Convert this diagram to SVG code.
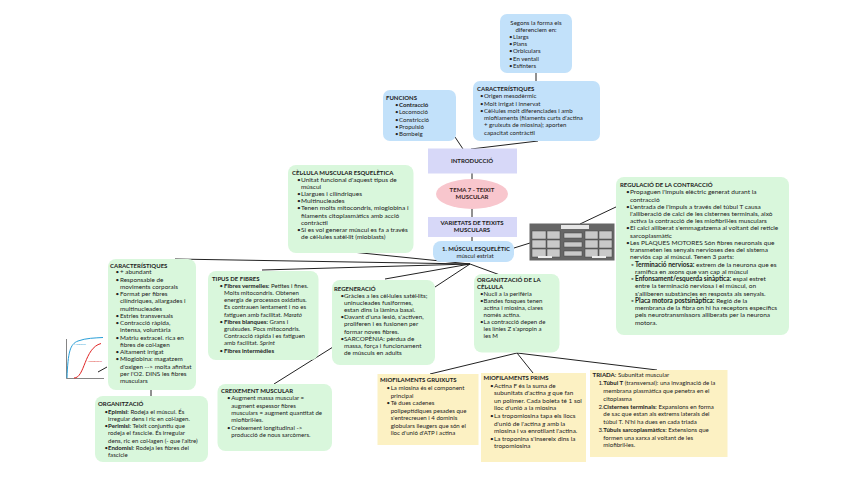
<svg xmlns="http://www.w3.org/2000/svg" width="848" height="477" viewBox="0 0 848 477">
<style>
text{font-family:Lato,"Liberation Sans",sans-serif;font-size:6.1px;fill:#222}
.w text{font-size:6.5px}
.w2 text{font-size:6.35px}
.b{font-weight:bold}
text.h{font-weight:bold;font-size:6px}
.i{font-style:italic}
.m{text-anchor:middle}
.blue{fill:#c2e1fa}
.green{fill:#d9f7dc}
.yel{fill:#fcf1c3}
.lav{fill:#d7d8f8}
.pink{fill:#f8c6cd}
.con line{stroke:#222;stroke-width:1;fill:none}
</style>
<rect width="848" height="477" fill="#fff"/>
<g class="con">
<line x1="536" y1="73" x2="536" y2="81"/>
<line x1="455" y1="137" x2="463" y2="149"/>
<line x1="538" y1="141" x2="471" y2="149"/>
<line x1="472" y1="173" x2="472" y2="179"/>
<line x1="472" y1="209" x2="472" y2="217"/>
<line x1="472" y1="237" x2="472" y2="241"/>
<line x1="514" y1="248" x2="530" y2="243"/>
<line x1="580" y1="224" x2="618" y2="206"/>
<line x1="470" y1="264" x2="175" y2="259"/>
<line x1="470" y1="264" x2="262" y2="270"/>
<line x1="470" y1="264" x2="352" y2="252"/>
<line x1="470" y1="264" x2="385" y2="279"/>
<line x1="470" y1="264" x2="435" y2="287"/>
<line x1="470" y1="264" x2="500" y2="275"/>
<line x1="151" y1="390" x2="151" y2="396"/>
<line x1="98" y1="372" x2="107" y2="367"/>
<line x1="274" y1="384" x2="333" y2="347"/>
<line x1="517" y1="353" x2="430" y2="374"/>
<line x1="517" y1="353" x2="533" y2="373"/>
<line x1="517" y1="353" x2="657" y2="370"/>
</g>

<g id="formes">
<rect class="blue" x="500" y="14" width="72" height="59" rx="7"/>
<text class="m" x="536" y="24.5">Segons la forma els</text>
<text class="m" x="536" y="31.7">diferenciem en:</text>
<text x="509" y="38.9">•</text><text x="513" y="38.9">Llargs</text>
<text x="509" y="46.1">•</text><text x="513" y="46.1">Plans</text>
<text x="509" y="53.3">•</text><text x="513" y="53.3">Orbiculars</text>
<text x="509" y="60.5">•</text><text x="513" y="60.5">En ventall</text>
<text x="509" y="67.7">•</text><text x="513" y="67.7">Esfínters</text>
</g>

<g id="caracteristiques-top">
<rect class="blue" x="473" y="81" width="127" height="60" rx="7"/>
<text class="h" x="477" y="91.3">CARACTERÍSTIQUES</text>
<text x="480" y="98">•</text><text x="484" y="98">Origen mesodèrmic</text>
<text x="480" y="105.5">•</text><text x="484" y="105.5">Molt irrigat i innervat</text>
<text x="480" y="113">•</text><text x="484" y="113">Cèl·lules molt diferenciades i amb</text>
<text x="484" y="120.2">miofilaments (filaments curts d'actina</text>
<text x="484" y="127.4">+ gruixuts de miosina); aporten</text>
<text x="484" y="134.6">capacitat contràctil</text>
</g>

<g id="funcions">
<rect class="blue" x="383" y="90" width="73" height="51" rx="7"/>
<text class="h" x="386" y="100.3">FUNCIONS</text>
<text x="395" y="107">•</text><text class="b" x="399" y="107">Contracció</text>
<text x="395" y="114.3">•</text><text x="399" y="114.3">Locomoció</text>
<text x="395" y="121.6">•</text><text x="399" y="121.6">Constricció</text>
<text x="395" y="128.9">•</text><text x="399" y="128.9">Propulsió</text>
<text x="395" y="136.2">•</text><text x="399" y="136.2">Bombeig</text>
</g>

<g id="introduccio">
<rect class="lav" x="428" y="148.5" width="89" height="25"/>
<text class="h m" x="472" y="163">INTRODUCCIÓ</text>
</g>

<g id="tema">
<ellipse class="pink" cx="472" cy="194" rx="36" ry="15"/>
<text class="h m" x="472" y="191.5" style="fill:#3a2222">TEMA 7 - TEIXIT</text>
<text class="h m" x="472" y="199" style="fill:#3a2222">MUSCULAR</text>
</g>

<g id="varietats">
<rect class="lav" x="428" y="217" width="89" height="20"/>
<text class="h m" x="472" y="224.5">VARIETATS DE TEIXITS</text>
<text class="h m" x="472" y="232">MUSCULARS</text>
</g>

<g id="musculesq">
<rect class="blue" x="433" y="241" width="81" height="21" rx="8"/>
<text class="h m" x="476" y="250.5">1. MÚSCUL ESQUELÈTIC</text>
<text class="m" x="475" y="258">múscul estriat</text>
</g>

<g id="imatge">
<rect x="529.5" y="223.5" width="85" height="37" fill="#666"/>
<rect x="561" y="225" width="28" height="4" fill="#e6e6e6"/>
<g fill="#c9c9c9" stroke="#444" stroke-width="0.5">
<rect x="532" y="231" width="14" height="8"/>
<rect x="547" y="231" width="13" height="8"/>
<rect x="532" y="240" width="14" height="8"/>
<rect x="547" y="240" width="13" height="8"/>
<rect x="532" y="249" width="14" height="8"/>
<rect x="547" y="249" width="13" height="8"/>
<rect x="585" y="231" width="13" height="8"/>
<rect x="599" y="231" width="13" height="8"/>
<rect x="585" y="240" width="13" height="8"/>
<rect x="599" y="240" width="13" height="8"/>
<rect x="585" y="249" width="13" height="8"/>
<rect x="599" y="249" width="13" height="8"/>
<rect x="564" y="233" width="18" height="5"/>
<rect x="564" y="242" width="18" height="5"/>
<rect x="564" y="251" width="18" height="5"/>
</g>
<rect x="538" y="256" width="14" height="2" fill="#eee"/>
<rect x="592" y="256" width="14" height="2" fill="#eee"/>
</g>

<g id="cellula" class="w">
<rect class="green" x="288" y="165" width="125.5" height="88" rx="8"/>
<text class="h" x="292" y="174.5">CÈL·LULA MUSCULAR ESQUELÈTICA</text>
<text x="297" y="181.5">•</text><text x="301" y="181.5">Unitat funcional d'aquest tipus de</text>
<text x="301" y="188.7">múscul</text>
<text x="297" y="195.9">•</text><text x="301" y="195.9">Llargues i cilíndriques</text>
<text x="297" y="203.1">•</text><text x="301" y="203.1">Multinucleades</text>
<text x="297" y="210.3">•</text><text x="301" y="210.3">Tenen molts mitocondris, mioglobina i</text>
<text x="301" y="217.5">filaments citoplasmàtics amb acció</text>
<text x="301" y="224.7">contràctil</text>
<text x="297" y="231.9">•</text><text x="301" y="231.9">Si es vol generar múscul es fa a través</text>
<text x="301" y="239.1">de cèl·lules satèl·lit (mioblasts)</text>
</g>

<g id="regulacio" class="w">
<rect class="green" x="616" y="177" width="173" height="158" rx="8"/>
<text class="h" x="620" y="187">REGULACIÓ DE LA CONTRACCIÓ</text>
<text x="626" y="194.2">•</text><text x="630" y="194.2">Propaguen l'impuls elèctric generat durant la</text>
<text x="630" y="201.5">contracció</text>
<text x="626" y="208.7">•</text><text x="630" y="208.7">L'entrada de l'impuls a través del túbul T causa</text>
<text x="630" y="216">l'alliberació de calci de les cisternes terminals, això</text>
<text x="630" y="223.2">activa la contracció de les miofibril·les musculars</text>
<text x="626" y="230.4">•</text><text x="630" y="230.4">El calci alliberat s'emmagatzema al voltant del reticle</text>
<text x="630" y="237.7">sarcoplasmàtic</text>
<text x="626" y="244.9">•</text><text x="630" y="244.9">Les PLAQUES MOTORES Són fibres neuronals que</text>
<text x="630" y="252.2">transmeten les senyals nervioses des del sistema</text>
<text x="630" y="259.4">nerviós cap al múscul. Tenen 3 parts:</text>
<text x="631" y="266.6">◦</text><text x="635" y="266.6"><tspan class="b">Terminació nerviosa:</tspan> extrem de la neurona que es</text>
<text x="635" y="273.9">ramifica en axons que van cap al múscul</text>
<text x="631" y="281.1">◦</text><text x="635" y="281.1"><tspan class="b">Enfonsament/esquerda sinàptica:</tspan> espai estret</text>
<text x="635" y="288.4">entre la terminació nerviosa i el múscul, on</text>
<text x="635" y="295.6">s'alliberen substàncies en resposta als senyals.</text>
<text x="631" y="302.8">◦</text><text x="635" y="302.8"><tspan class="b">Placa motora postsinàptica:</tspan> Regió de la</text>
<text x="635" y="310.1">membrana de la fibra on hi ha receptors específics</text>
<text x="635" y="317.3">pels neurotransmissors alliberats per la neurona</text>
<text x="635" y="324.6">motora.</text>
</g>

<g id="caracteristiques" class="w2">
<rect class="green" x="108" y="259" width="88" height="131" rx="8"/>
<text class="h" x="110" y="267.7">CARACTERÍSTIQUES</text>
<text x="115.5" y="274.3">•</text><text x="120" y="274.3">+ abundant</text>
<text x="115.5" y="281.6">•</text><text x="120" y="281.6">Responsable de</text>
<text x="120" y="288.8">moviments corporals</text>
<text x="115.5" y="296.1">•</text><text x="120" y="296.1">Format per fibres</text>
<text x="120" y="303.3">cilíndriques, allargades i</text>
<text x="120" y="310.6">multinucleades</text>
<text x="115.5" y="317.8">•</text><text x="120" y="317.8">Estries transversals</text>
<text x="115.5" y="325.1">•</text><text x="120" y="325.1">Contracció ràpida,</text>
<text x="120" y="332.3">intensa, voluntària</text>
<text x="115.5" y="339.6">•</text><text x="120" y="339.6">Matriu extracel. rica en</text>
<text x="120" y="346.8">fibres de col·lagen</text>
<text x="115.5" y="354.1">•</text><text x="120" y="354.1">Altament irrigat</text>
<text x="115.5" y="361.3">•</text><text x="120" y="361.3">Mioglobina: magatzem</text>
<text x="120" y="368.6">d'oxigen --&gt; molta afinitat</text>
<text x="120" y="375.8">per l'O2. DINS les fibres</text>
<text x="120" y="383.1">musculars</text>
</g>

<g id="grafic">
<line x1="66.5" y1="339" x2="66.5" y2="378.5" stroke="#333" stroke-width="0.6"/>
<line x1="66.5" y1="378.5" x2="104" y2="378.5" stroke="#333" stroke-width="0.6"/>
<path d="M67,378 C68,352 70,344 78,341 S95,338 103,337.5" stroke="#2a9fd8" stroke-width="1" fill="none"/>
<path d="M74,378 C85,378 84,348 101,343.5" stroke="#e02424" stroke-width="1" fill="none"/>
<text x="74" y="345" style="font-size:2.4px;fill:#2a9fd8">Mioglobina</text>
<text x="88" y="362" style="font-size:2.4px;fill:#e02424">Hemoglobina</text>
</g>

<g id="tipus">
<rect class="green" x="208" y="271" width="110.5" height="89" rx="8"/>
<text class="h" x="212" y="281">TIPUS DE FIBRES</text>
<text x="219.5" y="287.7">•</text><text x="224" y="287.7"><tspan class="b">Fibres vermelles:</tspan> Petites i fines.</text>
<text x="224" y="294.9">Molts mitocondris. Obtenen</text>
<text x="224" y="302.1">energia de processos oxidatius.</text>
<text x="224" y="309.3">Es contrauen lentament i no es</text>
<text x="224" y="316.5">fatiguen amb facilitat. <tspan class="i">Marató</tspan></text>
<text x="219.5" y="323.7">•</text><text x="224" y="323.7"><tspan class="b">Fibres blanques:</tspan> Grans i</text>
<text x="224" y="330.9">gruixudes. Pocs mitocondris.</text>
<text x="224" y="338.1">Contracció ràpida i es fatiguen</text>
<text x="224" y="345.3">amb facilitat. <tspan class="i">Sprint</tspan></text>
<text x="219.5" y="352.5">•</text><text class="b" x="224" y="352.5">Fibres intermèdies</text>
</g>

<g id="regeneracio" class="w2">
<rect class="green" x="332" y="280" width="103" height="85" rx="8"/>
<text class="h" x="334" y="291">REGENERACIÓ</text>
<text x="340.5" y="298">•</text><text x="344" y="298">Gràcies a les cèl·lules satèl·lits;</text>
<text x="344" y="305.1">uninucleades fusiformes,</text>
<text x="344" y="312.2">estan dins la làmina basal.</text>
<text x="340.5" y="319.3">•</text><text x="344" y="319.3">Davant d'una lesió, s'activen,</text>
<text x="344" y="326.4">proliferen i es fusionen per</text>
<text x="344" y="333.5">formar noves fibres.</text>
<text x="340.5" y="340.6">•</text><text x="344" y="340.6">SARCOPÈNIA: pèrdua de</text>
<text x="344" y="347.7">massa, força i funcionament</text>
<text x="344" y="354.8">de músculs en adults</text>
</g>

<g id="organitzacio-cellula">
<rect class="green" x="474" y="274" width="85.5" height="78.5" rx="8"/>
<text class="h" x="477" y="282">ORGANITZACIÓ DE LA</text>
<text class="h" x="477" y="289">CÈL·LULA</text>
<text x="480" y="296.3">•</text><text x="483.5" y="296.3">Nucli a la perifèria</text>
<text x="480" y="303.2">•</text><text x="483.5" y="303.2">Bandes fosques tenen</text>
<text x="483.5" y="310.1">actina i miosina, clares</text>
<text x="483.5" y="317">només actina.</text>
<text x="480" y="323.9">•</text><text x="483.5" y="323.9">La contracció depen de</text>
<text x="483.5" y="330.8">les línies Z s'apropin a</text>
<text x="483.5" y="337.7">les M</text>
</g>

<g id="organitzacio">
<rect class="green" x="95" y="396" width="113" height="66" rx="8"/>
<text class="h" x="98" y="406">ORGANITZACIÓ</text>
<text x="104.5" y="413.7">•</text><text x="108" y="413.7"><tspan class="b">Epimisi</tspan>: Rodeja el múscul. És</text>
<text x="108" y="420.9">irregular dens i ric en col·lagen.</text>
<text x="104.5" y="428.1">•</text><text x="108" y="428.1"><tspan class="b">Perimisi</tspan>: Teixit conjuntiu que</text>
<text x="108" y="435.3">rodeja el fascicle. És irregular</text>
<text x="108" y="442.5">dens, ric en col·lagen (- que l'altre)</text>
<text x="104.5" y="449.7">•</text><text x="108" y="449.7"><tspan class="b">Endomisi</tspan>: Rodeja les fibres del</text>
<text x="108" y="456.9">fascicle</text>
</g>

<g id="creixement">
<rect class="green" x="217.5" y="384" width="114.5" height="67" rx="8"/>
<text class="h" x="221" y="393">CREIXEMENT MUSCULAR</text>
<text x="227" y="400.3">•</text><text x="231.3" y="400.3">Augment massa muscular =</text>
<text x="231.3" y="407.5">augment espessor fibres</text>
<text x="231.3" y="414.7">musculars = augment quantitat de</text>
<text x="231.3" y="421.9">miofibril·les.</text>
<text x="227" y="429.6">•</text><text x="231.3" y="429.6">Creixement longitudinal   -&gt;</text>
<text x="231.3" y="436.8">producció de nous sarcòmers.</text>
</g>

<g id="gruixuts">
<rect class="yel" x="377.5" y="374" width="101" height="71"/>
<text class="h" x="380" y="382">MIOFILAMENTS GRUIXUTS</text>
<text x="386.5" y="390.3">•</text><text x="390.7" y="390.3">La miosina és el component</text>
<text x="390.7" y="397.7">principal</text>
<text x="386.5" y="405.2">•</text><text x="390.7" y="405.2">Té dues cadenes</text>
<text x="390.7" y="412.7">polipeptídiques pesades que</text>
<text x="390.7" y="420.2">s'entrecreuen i 4 dominis</text>
<text x="390.7" y="427.7">globulars lleugers que són el</text>
<text x="390.7" y="435.2">lloc d'unió d'ATP i actina</text>
</g>

<g id="prims" class="w2">
<rect class="yel" x="481" y="373" width="105" height="89"/>
<text class="h" x="483.5" y="380.3">MIOFILAMENTS PRIMS</text>
<text x="490" y="387.7">•</text><text x="494" y="387.7">Actina F és la suma de</text>
<text x="494" y="395.3">subunitats d'actina <tspan class="i">g</tspan> que fan</text>
<text x="494" y="402.9">un polímer. Cada boleta té 1 sol</text>
<text x="494" y="410.4">lloc d'unió a la miosina</text>
<text x="490" y="418">•</text><text x="494" y="418">La tropomiosina tapa els llocs</text>
<text x="494" y="425.5">d'unió de l'actina <tspan class="i">g</tspan> amb la</text>
<text x="494" y="433">miosina i va enrotllant l'actina.</text>
<text x="490" y="440.5">•</text><text x="494" y="440.5">La troponina s'insereix dins la</text>
<text x="494" y="448">tropomiosina</text>
</g>

<g id="triada">
<rect class="yel" x="590" y="370" width="137.5" height="87"/>
<text x="592.5" y="377"><tspan class="b">TRIADA</tspan>: Subunitat muscular</text>
<text x="598.5" y="385.3">1.</text><text x="603.3" y="385.3"><tspan class="b">Túbul T</tspan> (transversal): una invaginació de la</text>
<text x="603.3" y="393">membrana plasmàtica que penetra en el</text>
<text x="603.3" y="400.5">citoplasma</text>
<text x="598.5" y="408.7">2.</text><text x="603.3" y="408.7"><tspan class="b">Cisternes terminals</tspan>: Expansions en forma</text>
<text x="603.3" y="416.2">de sac que estan als extrems laterals del</text>
<text x="603.3" y="423.7">túbul T. N'hi ha dues en cada triada</text>
<text x="598.5" y="432">3.</text><text x="603.3" y="432"><tspan class="b">Túbuls sarcoplasmàtics</tspan>: Extensions que</text>
<text x="603.3" y="439.5">formen una xarxa al voltant de les</text>
<text x="603.3" y="447">miofibril·les.</text>
</g>
</svg>
